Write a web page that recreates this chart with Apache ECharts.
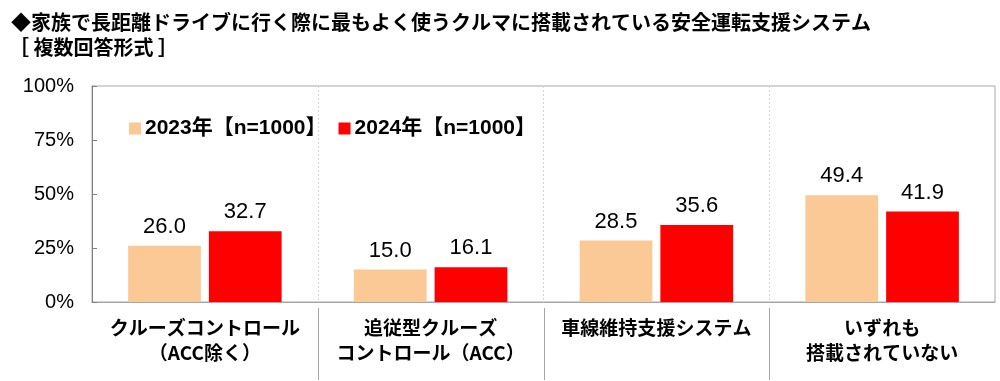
<!DOCTYPE html>
<html>
<head>
<meta charset="utf-8">
<script src="https://cdn.jsdelivr.net/npm/echarts@6/dist/echarts.min.js"></script>
<style>
html,body{margin:0;padding:0;background:#fff;}
#chart{width:1000px;height:381px;}
</style>
</head>
<body>
<div id="chart"></div>
<script>
const titleText = '◆家族で長距離ドライブに行く際に最もよく使うクルマに搭載されている安全運転支援システム';
const subtitleText = '［ 複数回答形式 ］';
const categories = ['クルーズコントロール\n（ACC除く）', '追従型クルーズ\nコントロール（ACC）', '車線維持支援システム', 'いずれも\n搭載されていない'];
const seriesNames = ['2023年【n=1000】', '2024年【n=1000】'];
const values2023 = [26.0, 15.0, 28.5, 49.4];
const values2024 = [32.7, 16.1, 35.6, 41.9];
const yTicks = [0, 25, 50, 75, 100];

const cjk = '"Noto Sans CJK JP", "Noto Sans", sans-serif';
const latin = '"Liberation Sans", Arial, "Noto Sans CJK JP", sans-serif';

const chart = echarts.init(document.getElementById('chart'), null, {renderer: 'canvas'});

const option = {
  animation: false,
  backgroundColor: '#fff',
  title: [
    {text: titleText, left: 6, top: 7, textStyle: {fontFamily: cjk, fontWeight: 'bold', fontSize: 20, color: '#000'}},
    {text: subtitleText, left: 4, top: 32, textStyle: {fontFamily: cjk, fontWeight: 'bold', fontSize: 20, color: '#000'}}
  ],
  legend: {
    left: 124, top: 113,
    itemWidth: 12, itemHeight: 12, itemGap: 12,
    icon: 'rect',
    textStyle: {fontFamily: latin, fontWeight: 'bold', fontSize: 21, color: '#000', padding: [0, 0, 0, -1]},
    data: seriesNames
  },
  grid: {left: 92, right: 5, top: 86, bottom: 79, show: true, borderColor: '#A6A6A6', borderWidth: 1},
  xAxis: {
    type: 'category',
    data: categories,
    axisLine: {lineStyle: {color: '#A6A6A6'}},
    axisTick: {show: false},
    splitLine: {show: true, interval: 0, lineStyle: {color: '#D4D4D4', type: [2, 2]}},
    axisLabel: {interval: 0, fontFamily: cjk, fontWeight: 'bold', fontSize: 19, color: '#000', lineHeight: 25, margin: 13}
  },
  yAxis: {
    type: 'value',
    min: 0, max: 100, interval: 25,
    axisLine: {show: true, lineStyle: {color: '#808080'}},
    axisTick: {show: true, inside: true, length: 5, lineStyle: {color: '#808080'}},
    splitLine: {show: false},
    axisLabel: {fontFamily: latin, fontSize: 20, color: '#000', margin: 18, formatter: v => v + '%'}
  },
  series: [
    {
      name: seriesNames[0], type: 'bar', data: values2023,
      itemStyle: {color: '#FBC995'},
      barGap: '11%', barCategoryGap: '32%',
      label: {show: true, position: 'top', distance: 8, fontFamily: latin, fontSize: 22, color: '#000', formatter: p => p.value.toFixed(1)}
    },
    {
      name: seriesNames[1], type: 'bar', data: values2024,
      itemStyle: {color: '#FF0000'},
      barGap: '11%', barCategoryGap: '32%',
      label: {show: true, position: 'top', distance: 8, fontFamily: latin, fontSize: 22, color: '#000', formatter: p => p.value.toFixed(1)}
    }
  ]
};
chart.setOption(option);

// separators below the axis between categories, positioned from the axis scale
function drawSeparators() {
  const graphics = [];
  const y0 = chart.convertToPixel({yAxisIndex: 0}, 0);
  for (let i = 1; i < categories.length; i++) {
    const a = chart.convertToPixel({xAxisIndex: 0}, i - 1);
    const b = chart.convertToPixel({xAxisIndex: 0}, i);
    const x = Math.round((a + b) / 2) + 0.5;
    graphics.push({type: 'line', shape: {x1: x, y1: y0 + 6, x2: x, y2: 380}, style: {stroke: '#A6A6A6', lineWidth: 1}, silent: true});
  }
  chart.setOption({graphic: graphics});
}
drawSeparators();
</script>
</body>
</html>
